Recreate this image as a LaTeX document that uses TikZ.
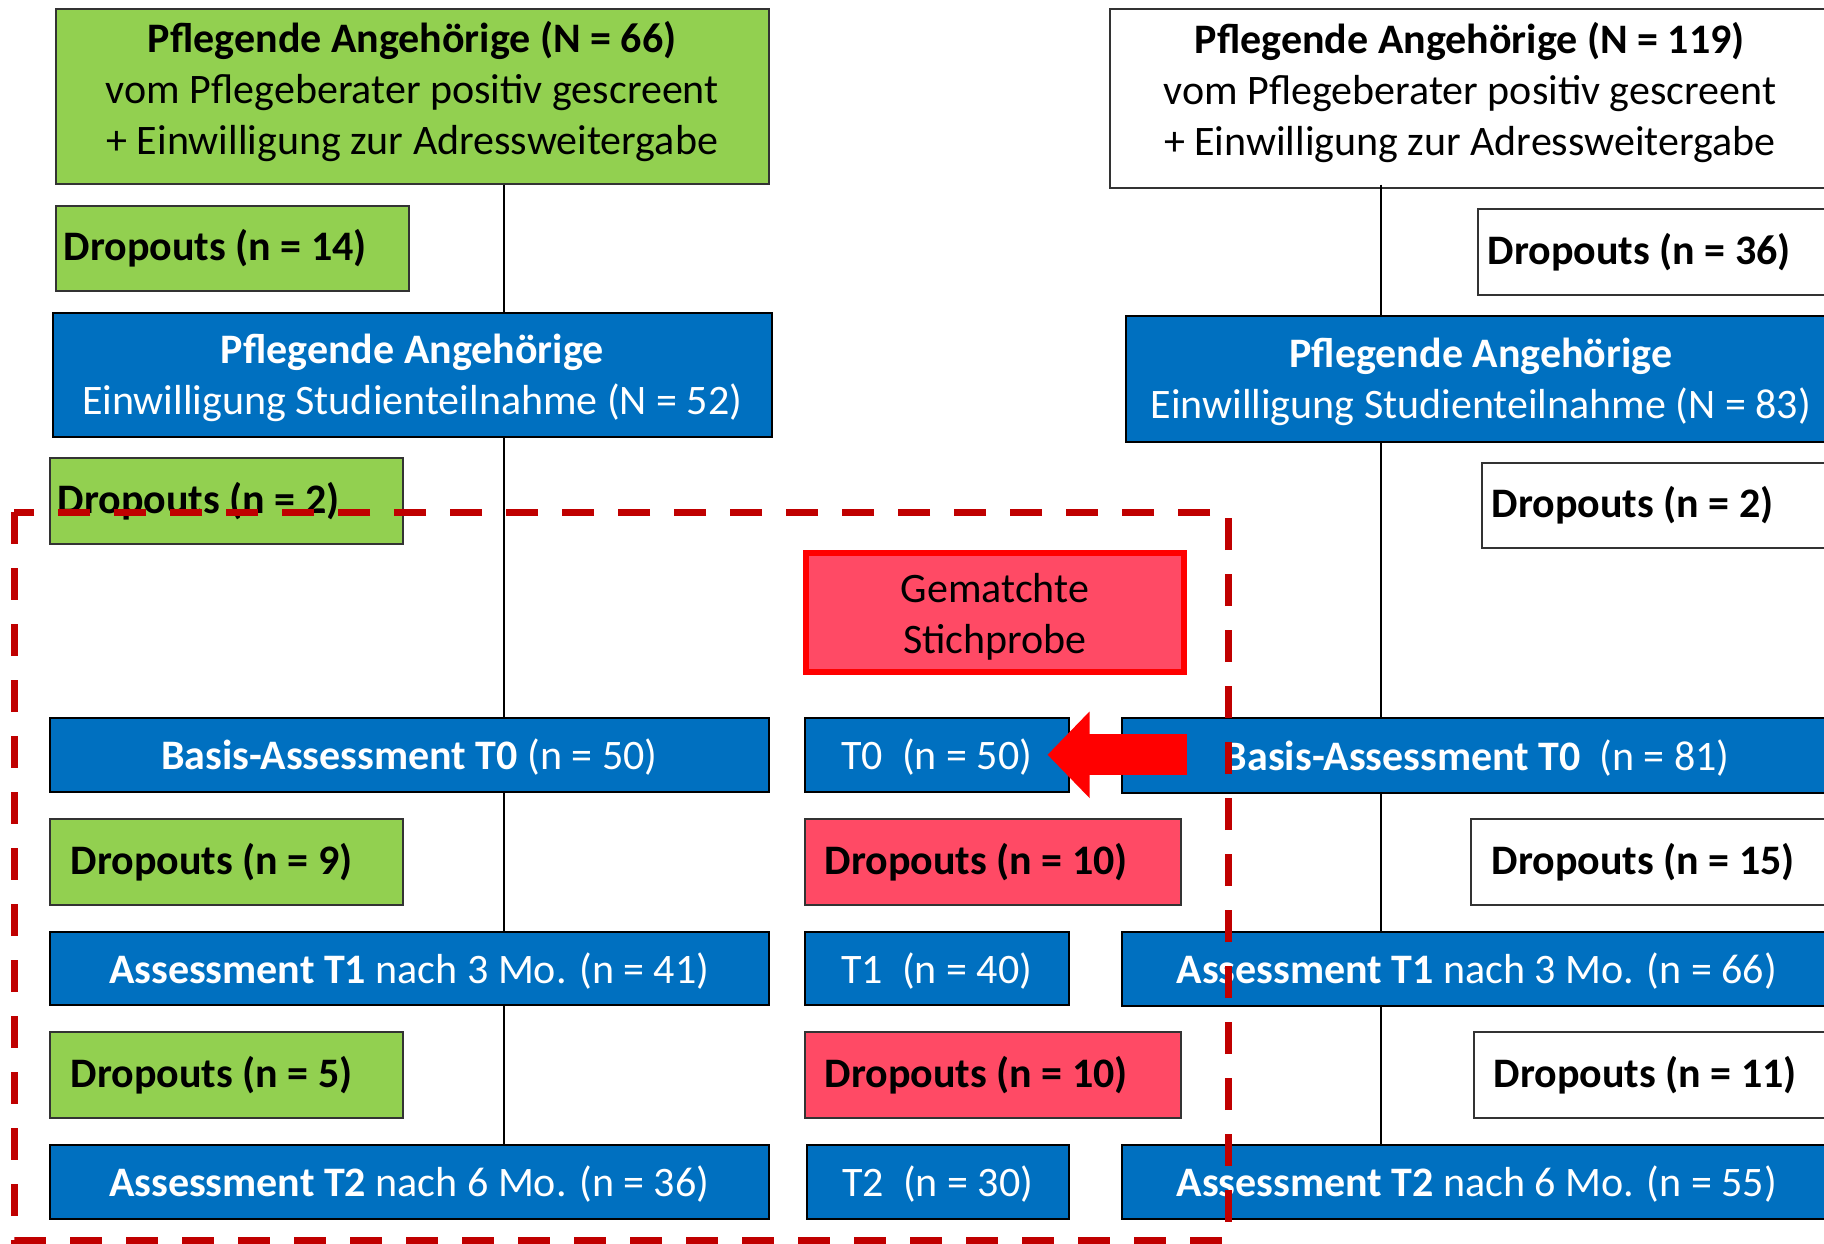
\documentclass[tikz,border=0pt]{standalone}
\usepackage{fontspec}
\setmainfont{Carlito}
\usetikzlibrary{arrows.meta}
\definecolor{cgreen}{HTML}{92D050}
\definecolor{cblue}{HTML}{0070C0}
\definecolor{cpink}{RGB}{255,74,101}
\definecolor{cdash}{HTML}{C00000}
\tikzset{
  base/.style={draw=black!80, line width=0.75pt, inner sep=0pt, anchor=north west,
    font=\fontsize{21}{25.5}\selectfont},
  greenbox/.style={base, fill=cgreen},
  bluebox/.style={base, draw=black, fill=cblue},
  whitebox/.style={base, fill=white},
  pinkbox/.style={base, fill=cpink},
  drop/.style={font=\fontsize{21}{25.5}\selectfont\bfseries, align=flush left},
  matchbox/.style={base, anchor=center, draw=red, line width=3pt, fill=cpink},
  txt/.style={inner sep=0pt, font=\fontsize{21}{25.5}\selectfont, align=center},
  wtxt/.style={txt, text=white},
  conn/.style={draw=black, line width=0.75pt},
  bigarrow/.style={draw=red, line width=20.5pt, -{Triangle[length=21pt,width=42pt]}},
  dashbox/.style={draw=cdash, line width=3.5pt, dash pattern=on 16pt off 12pt},
}
\begin{document}
\begin{tikzpicture}[x=0.5pt,y=-0.5pt]
\useasboundingbox (0,0) rectangle (1824,1243);
% ---------------- left column
\node[greenbox, minimum width=356.5pt, minimum height=87.5pt] (topL) at (55,8) {};
\node[txt] (topL-t) at ([yshift=2.5pt]topL.center)
  {\textbf{Pflegende Angehörige (N = 66)}\\vom Pflegeberater positiv gescreent\\+ Einwilligung zur Adressweitergabe};
\node[greenbox, drop, minimum height=42.5pt, inner xsep=4pt, text width=168.5pt] (dL14) at (55,205) {Dropouts (n = 14)};
\node[bluebox, minimum width=359.5pt, minimum height=62pt] (bL52) at (52,312) {};
\node[wtxt] (bL52-t) at ([yshift=-1.75pt]bL52.center)
  {\textbf{Pflegende Angehörige}\\Einwilligung Studienteilnahme (N = 52)};
\node[greenbox, drop, minimum height=43pt, inner xsep=4pt, text width=168.5pt] (dL2) at (49,457) {Dropouts (n = 2)};
\node[bluebox, minimum width=359.5pt, minimum height=37pt] (t0L) at (49,717) {};
\node[wtxt] (t0L-t) at ([yshift=-1.25pt]t0L.center) {\textbf{Basis-Assessment T0} (n = 50)};
\node[greenbox, drop, minimum height=43pt, inner xsep=10.5pt, text width=155.5pt] (dL9) at (49,818) {Dropouts (n = 9)};
\node[bluebox, minimum width=359.5pt, minimum height=36.5pt] (t1L) at (49,931) {};
\node[wtxt] (t1L-t) at ([yshift=-1.25pt]t1L.center) {\textbf{Assessment T1} nach 3 Mo. (n = 41)};
\node[greenbox, drop, minimum height=43pt, inner xsep=10.5pt, text width=155.5pt] (dL5) at (49,1031) {Dropouts (n = 5)};
\node[bluebox, minimum width=359.5pt, minimum height=37pt] (t2L) at (49,1144) {};
\node[wtxt] (t2L-t) at ([yshift=-1.25pt]t2L.center) {\textbf{Assessment T2} nach 6 Mo. (n = 36)};
% ---------------- middle column
\node[matchbox, minimum width=189pt, minimum height=59.5pt] (gm) at (995,612.5) {};
\node[txt] (gm-t) at ([yshift=-2pt]gm.center) {Gematchte\\Stichprobe};
\node[bluebox, minimum width=132pt, minimum height=37pt] (t0M) at (804,717) {};
\node[wtxt] (t0M-t) at ([yshift=-1.25pt]t0M.center) {T0\ \ (n = 50)};
\node[pinkbox, drop, minimum height=43pt, inner xsep=10pt, text width=168pt] (dM1) at (804,818) {Dropouts (n = 10)};
\node[bluebox, minimum width=132pt, minimum height=36.5pt] (t1M) at (804,931) {};
\node[wtxt] (t1M-t) at ([yshift=-1.25pt]t1M.center) {T1\ \ (n = 40)};
\node[pinkbox, drop, minimum height=43pt, inner xsep=10pt, text width=168pt] (dM2) at (804,1031) {Dropouts (n = 10)};
\node[bluebox, minimum width=131pt, minimum height=37pt] (t2M) at (806,1144) {};
\node[wtxt] (t2M-t) at ([yshift=-1.25pt]t2M.center) {T2\ \ (n = 30)};
% ---------------- right column
\node[whitebox, minimum width=360pt, minimum height=89.5pt] (topR) at (1109,8) {};
\node[txt] (topR-t) at ([yshift=3pt]topR.center)
  {\textbf{Pflegende Angehörige (N = 119)}\\vom Pflegeberater positiv gescreent\\+ Einwilligung zur Adressweitergabe};
\node[whitebox, drop, minimum height=43pt, inner xsep=5pt, text width=190pt] (dR36) at (1477,208) {Dropouts (n = 36)};
\node[bluebox, minimum width=355pt, minimum height=63pt] (bR83) at (1125,315) {};
\node[wtxt] (bR83-t) at ([yshift=-1.75pt]bR83.center)
  {\textbf{Pflegende Angehörige}\\Einwilligung Studienteilnahme (N = 83)};
\node[whitebox, drop, minimum height=42.5pt, inner xsep=5pt, text width=190pt] (dR2) at (1481,462) {Dropouts (n = 2)};
\node[bluebox, minimum width=355pt, minimum height=37.5pt] (t0R) at (1121,717) {};
\node[wtxt] (t0R-t) at ([yshift=-1.25pt]t0R.center) {\textbf{Basis-Assessment T0}\ \ (n = 81)};
\node[whitebox, drop, minimum height=43pt, inner xsep=10.5pt, text width=179pt] (dR15) at (1470,818) {Dropouts (n = 15)};
\node[bluebox, minimum width=355pt, minimum height=37pt] (t1R) at (1121,931) {};
\node[wtxt] (t1R-t) at ([yshift=-1.25pt]t1R.center) {\textbf{Assessment T1} nach 3 Mo. (n = 66)};
\node[whitebox, drop, minimum height=43pt, inner xsep=10pt, text width=180pt] (dR11) at (1473,1031) {Dropouts (n = 11)};
\node[bluebox, minimum width=355pt, minimum height=37pt] (t2R) at (1121,1144) {};
\node[wtxt] (t2R-t) at ([yshift=-1.25pt]t2R.center) {\textbf{Assessment T2} nach 6 Mo. (n = 55)};
% ---------------- connectors
\coordinate (lx) at (504,0);
\coordinate (rx) at (1381,0);
\draw[conn] (topL.south -| lx) -- (bL52.north -| lx);
\draw[conn] (bL52.south -| lx) -- (t0L.north -| lx);
\draw[conn] (t0L.south -| lx) -- (t1L.north -| lx);
\draw[conn] (t1L.south -| lx) -- (t2L.north -| lx);
\draw[conn] ([yshift=2pt]topR.south -| rx) -- (bR83.north -| rx);
\draw[conn] (bR83.south -| rx) -- (t0R.north -| rx);
\draw[conn] (t0R.south -| rx) -- (t1R.north -| rx);
\draw[conn] (t1R.south -| rx) -- (t2R.north -| rx);
% ---------------- big arrow
\draw[bigarrow] (gm.east |- t0M.east) -- ([xshift=-11pt]t0M.east);
% ---------------- dashed frame
\draw[dashbox] (14,512) rectangle (1228,1240);
\end{tikzpicture}
\end{document}
